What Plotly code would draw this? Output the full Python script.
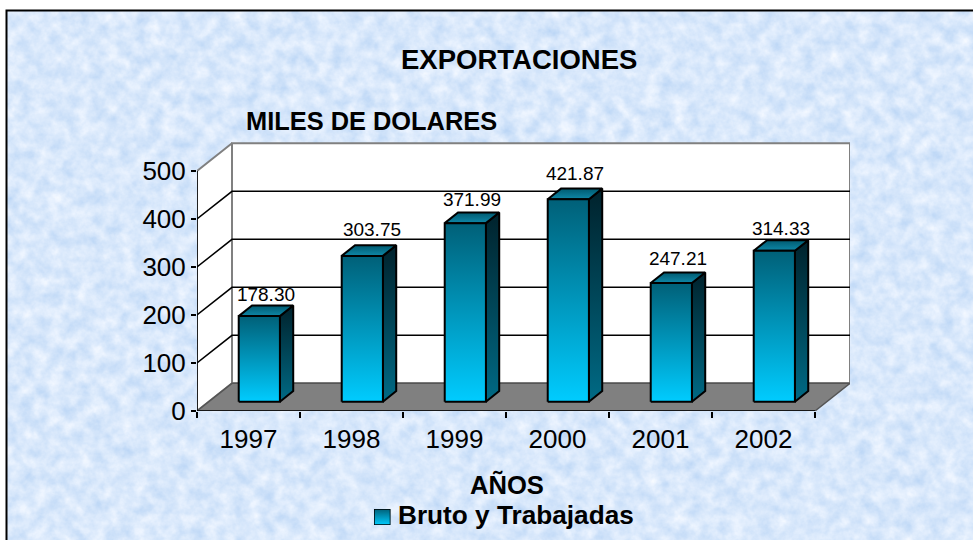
import base64
import plotly.graph_objects as go

years = ["1997", "1998", "1999", "2000", "2001", "2002"]
values = [178.30, 303.75, 371.99, 421.87, 247.21, 314.33]
y_ticks = [0, 100, 200, 300, 400, 500]
grid_values = [100, 200, 300, 400]

W, H = 973, 540
L, RIGHT, TOP, BOTTOM = 197, 850, 142, 411
PW, PH = RIGHT - L, BOTTOM - TOP

CAT_PX = 103.0
PX_PER_UNIT = 0.48
X_MAX = PW / CAT_PX
Y_MAX = PH / PX_PER_UNIT
WALL_DX = 35 / CAT_PX
WALL_DY = 27.7 / PX_PER_UNIT
BAR_LEFT = 0.405
BAR_W = 0.40
BAR_BASE = 9.3 / PX_PER_UNIT
BAR_DX = 13.3 / CAT_PX
BAR_DY = 10.6 / PX_PER_UNIT
N = len(years)

# small per-label lifts (pixels) and shifts seen in the reference
LABEL_LIFT_PX = [0, 5, 2, 4, 3, 0]
LABEL_SHIFT_PX = [0, 3, 0, 0, 0, 0]

FONT = "Liberation Sans, Arial, sans-serif"
GRAY = "#808080"


def px(x):
    return x / W


def py(y):
    return (H - y) / H


fig = go.Figure()


def poly(xs, ys, fill=None, line="black", width=1.5, grad=None, xaxis="x", yaxis="y"):
    kw = {}
    if grad:
        kw["fillgradient"] = dict(type="vertical", colorscale=[[0, grad[0]], [1, grad[1]]])
    elif fill:
        kw["fillcolor"] = fill
    fig.add_trace(go.Scatter(
        x=xs + xs[:1], y=ys + ys[:1], mode="lines", fill="toself",
        line=dict(color=line, width=width), hoverinfo="skip", showlegend=False,
        xaxis=xaxis, yaxis=yaxis, **kw))


def seg(xs, ys, color="black", width=1.5):
    fig.add_trace(go.Scatter(x=xs, y=ys, mode="lines", line=dict(color=color, width=width),
                             hoverinfo="skip", showlegend=False))


# walls
poly([0, WALL_DX, WALL_DX, 0], [0, WALL_DY, 500 + WALL_DY, 500], fill="white", line=GRAY, width=2)
poly([WALL_DX, N + WALL_DX, N + WALL_DX, WALL_DX],
     [WALL_DY, WALL_DY, 500 + WALL_DY, 500 + WALL_DY], fill="white", line=GRAY, width=2)
# gridlines
for g in grid_values:
    seg([0, WALL_DX, N + WALL_DX], [g, g + WALL_DY, g + WALL_DY])
# floor
poly([0, N, N + WALL_DX, WALL_DX], [0, 0, WALL_DY, WALL_DY], fill=GRAY, line="#555555")
# axes
seg([0, 0], [0, 500])
seg([0, N], [0, 0])

# bars
for i, v in enumerate(values):
    x0 = i + BAR_LEFT
    x1 = x0 + BAR_W
    y0 = BAR_BASE
    y1 = BAR_BASE + v
    poly([x1, x1 + BAR_DX, x1 + BAR_DX, x1], [y0, y0 + BAR_DY, y1 + BAR_DY, y1],
         grad=("#006A85", "#00222C"), width=2)
    poly([x0, x1, x1 + BAR_DX, x0 + BAR_DX], [y1, y1, y1 + BAR_DY, y1 + BAR_DY],
         grad=("#0F88A8", "#005A70"), width=2)
    poly([x0, x1, x1, x0], [y0, y0, y1, y1], grad=("#00CCFF", "#006078"), width=2)

# data labels
fig.add_trace(go.Scatter(
    x=[i + BAR_LEFT + BAR_W / 2 + BAR_DX / 2 + LABEL_SHIFT_PX[i] / CAT_PX for i in range(N)],
    y=[BAR_BASE + v + BAR_DY + LABEL_LIFT_PX[i] / PX_PER_UNIT for i, v in enumerate(values)],
    mode="text", text=[f"{v:.2f}" for v in values], textposition="top center",
    textfont=dict(family=FONT, size=19, color="black"),
    hoverinfo="skip", showlegend=False, cliponaxis=False))

# legend swatch
poly([0, 1, 1, 0], [0, 0, 1, 1], grad=("#00CCFF", "#006078"), width=1.5, xaxis="x2", yaxis="y2")

fig.update_layout(
    width=W, height=H, autosize=False,
    margin=dict(l=0, r=0, t=0, b=0),
    paper_bgcolor="white", plot_bgcolor="rgba(0,0,0,0)",
    showlegend=False,
    font=dict(family=FONT, color="black"),
    xaxis=dict(range=[0, X_MAX], domain=[px(L), px(RIGHT)], showgrid=False, zeroline=False, showline=False,
               automargin=False, anchor="y", tickmode="array", tickvals=[i + 0.5 for i in range(N)],
               ticktext=years, ticks="", ticklabelstandoff=10,
               tickfont=dict(size=26, family=FONT, color="black"),
               minor=dict(tickmode="array", tickvals=list(range(N + 1)), ticks="outside",
                          ticklen=6, tickwidth=1.5, tickcolor="black", showgrid=False)),
    yaxis=dict(range=[0, Y_MAX], domain=[py(BOTTOM), py(TOP)], showgrid=False, zeroline=False, showline=False,
               automargin=False, anchor="x", tickmode="array", tickvals=y_ticks, ticks="outside",
               ticklen=5, tickwidth=1.5, tickcolor="black", tickfont=dict(size=26, family=FONT, color="black")),
    xaxis2=dict(range=[0, 1], domain=[px(374), px(390.5)], visible=False, anchor="y2", automargin=False),
    yaxis2=dict(range=[0, 1], domain=[py(525), py(509)], visible=False, anchor="x2", automargin=False),
)

svg = (
    f'<svg xmlns="http://www.w3.org/2000/svg" width="{W}" height="{H}">'
    '<filter id="t" x="0" y="0" width="100%" height="100%" color-interpolation-filters="sRGB">'
    '<feTurbulence type="fractalNoise" baseFrequency="0.07" numOctaves="4" seed="7"/>'
    '<feColorMatrix type="matrix" values="0.26 0 0 0 0.72  0.16 0 0 0 0.83  0.05 0 0 0 0.96  0 0 0 0 1"/>'
    '</filter><rect width="100%" height="100%" filter="url(#t)"/></svg>'
)
src = "data:image/svg+xml;base64," + base64.b64encode(svg.encode()).decode()
fig.add_layout_image(dict(source=src, xref="paper", yref="paper", x=px(6), y=py(10),
                          sizex=(W - 6) / W, sizey=(H - 10) / H, xanchor="left", yanchor="top",
                          sizing="stretch", layer="below"))
# chart-area border (top and left are visible, the rest is cropped)
fig.add_shape(type="rect", xref="paper", yref="paper", x0=px(6.5), y0=py(10.5), x1=px(W + 5), y1=py(H + 5),
              line=dict(color="black", width=2), fillcolor="rgba(0,0,0,0)", layer="above")


def label(text, x, y, size):
    fig.add_annotation(text=f"<b>{text}</b>", xref="paper", yref="paper", x=px(x), y=py(y),
                       xanchor="center", yanchor="middle", showarrow=False,
                       font=dict(family=FONT, size=size, color="black"))


label("EXPORTACIONES", 519, 59, 27.5)
label("MILES DE DOLARES", 371.5, 121, 25.4)
label("AÑOS", 507, 484, 25.6)
label("Bruto y Trabajadas", 516, 515, 26.2)

fig.write_html("out.html", config={"displayModeBar": False},
               post_script="document.body.style.margin='0';")
